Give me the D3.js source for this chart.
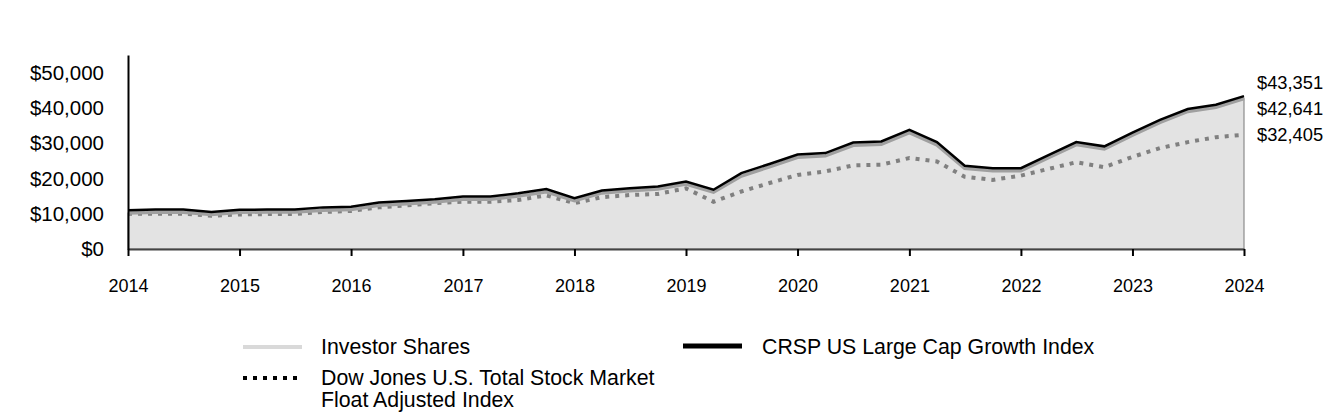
<!DOCTYPE html>
<html>
<head>
<meta charset="utf-8">
<script src="https://cdn.jsdelivr.net/npm/d3@7/dist/d3.min.js"></script>
<style>
  html, body { margin: 0; padding: 0; background: #fff; }
  svg { display: block; font-family: Arial, "Liberation Sans", sans-serif; }
</style>
</head>
<body>
<svg id="chart" width="1344" height="420"></svg>
<script>
// Quarterly dates, 2014 Q0 .. 2024 Q0
const quarters = [
  "2014-01","2014-04","2014-07","2014-10","2015-01","2015-04","2015-07","2015-10",
  "2016-01","2016-04","2016-07","2016-10","2017-01","2017-04","2017-07","2017-10",
  "2018-01","2018-04","2018-07","2018-10","2019-01","2019-04","2019-07","2019-10",
  "2020-01","2020-04","2020-07","2020-10","2021-01","2021-04","2021-07","2021-10",
  "2022-01","2022-04","2022-07","2022-10","2023-01","2023-04","2023-07","2023-10",
  "2024-01"
];
// Values in US$ (hypothetical growth of $10,000)
const investorShares = [
  10200,10400,10400,9800,10400,10500,10500,11000,
  11200,12400,12800,13300,14100,14100,15000,16200,
  13700,15900,16500,17000,18400,16100,20700,23300,
  26000,26400,29400,29700,33000,29500,22900,22200,
  22200,25900,29600,28400,32300,35900,39000,40200,
  42641
];
const crspGrowth = [
  11000,11200,11200,10500,11100,11200,11200,11800,
  12000,13200,13600,14100,14900,14900,15800,17000,
  14400,16600,17200,17700,19100,16800,21500,24100,
  26800,27200,30200,30500,33800,30300,23600,22900,
  22900,26600,30300,29100,33000,36600,39700,40900,
  43351
];
const dowJonesTotal = [
  10000,10000,10000,9400,9800,9900,9900,10500,
  10800,11800,12400,13000,13400,13400,13900,15200,
  13000,14700,15300,15600,17200,13400,16300,18700,
  21000,22000,23700,23900,25800,24800,20500,19600,
  20800,22700,24600,23200,26100,28600,30300,31700,
  32405
];
const yTicks = [0, 10000, 20000, 30000, 40000, 50000];
const xTickYears = [2014,2015,2016,2017,2018,2019,2020,2021,2022,2023,2024];
const endLabels = ["$43,351", "$42,641", "$32,405"];
const legendItems = [
  {name: "Investor Shares", lines: ["Investor Shares"]},
  {name: "CRSP US Large Cap Growth Index", lines: ["CRSP US Large Cap Growth Index"]},
  {name: "Dow Jones", lines: ["Dow Jones U.S. Total Stock Market", "Float Adjusted Index"]}
];

const parse = d3.timeParse("%Y-%m");
const dates = quarters.map(parse);

const svg = d3.select("#chart");
const plotLeft = 128, plotRight = 1244, plotTop = 55, plotBottom = 249;

const x = d3.scaleTime()
  .domain([new Date(2014,0,1), new Date(2024,0,1)])
  .range([plotLeft, plotRight]);
const y = d3.scaleLinear().domain([0, 55000]).range([plotBottom, plotTop]);

const pts = arr => arr.map((v,i) => ({d: dates[i], v}));

// Area under Investor Shares
const area = d3.area().x(p => x(p.d)).y0(y(0)).y1(p => y(p.v));
svg.append("path").datum(pts(investorShares))
  .attr("d", area).attr("fill", "#e3e3e3")
  .attr("stroke", "#8c8c8c").attr("stroke-width", 1.2);

const line = d3.line().x(p => x(p.d)).y(p => y(p.v));

// Dow Jones dotted line
svg.append("path").datum(pts(dowJonesTotal))
  .attr("d", line).attr("fill", "none")
  .attr("stroke", "#808080").attr("stroke-width", 4)
  .attr("stroke-dasharray", "4,6");

// Investor Shares line
svg.append("path").datum(pts(investorShares))
  .attr("d", line).attr("fill", "none")
  .attr("stroke", "#a0a0a0").attr("stroke-width", 3.5);

// CRSP line
svg.append("path").datum(pts(crspGrowth))
  .attr("d", line).attr("fill", "none")
  .attr("stroke", "#000").attr("stroke-width", 2.5);

// X axis
const xAxis = d3.axisBottom(x)
  .tickValues(xTickYears.map(yr => new Date(yr,0,1)))
  .tickFormat(d3.timeFormat("%Y"))
  .tickSize(7).tickSizeOuter(0).tickPadding(23);
const gx = svg.append("g").attr("transform", `translate(0,${plotBottom})`).call(xAxis);
gx.select(".domain").attr("stroke", "#444").attr("stroke-width", 2);
gx.selectAll(".tick line").attr("stroke", "#000").attr("stroke-width", 2);
gx.selectAll(".tick text").attr("font-size", 18).attr("fill", "#000")
  .attr("font-family", "Arial, 'Liberation Sans', sans-serif");

// Y axis
const yAxis = d3.axisLeft(y).tickValues(yTicks)
  .tickFormat(d => "$" + d3.format(",")(d))
  .tickSize(0).tickPadding(24);
const gy = svg.append("g").attr("transform", `translate(${plotLeft},0)`).call(yAxis);
gy.select(".domain").attr("stroke", "#000").attr("stroke-width", 2);
gy.selectAll(".tick text").attr("font-size", 20.5).attr("fill", "#000")
  .attr("font-family", "Arial, 'Liberation Sans', sans-serif");

// End labels
const endY = [83, 109, 135];
svg.selectAll("text.endlabel").data(endLabels).enter().append("text")
  .attr("class", "endlabel")
  .attr("x", plotRight + 13).attr("y", (d,i) => endY[i])
  .attr("dy", "0.35em").attr("font-size", 18.3).attr("fill", "#000")
  .text(d => d);

// Legend
const legendFont = 21.3;
const lg = svg.append("g");
lg.append("line").attr("x1", 243).attr("x2", 302).attr("y1", 347).attr("y2", 347)
  .attr("stroke", "#d9d9d9").attr("stroke-width", 4);
lg.append("text").attr("x", 321).attr("y", 354).attr("font-size", legendFont).text(legendItems[0].lines[0]);

lg.append("line").attr("x1", 683).attr("x2", 742).attr("y1", 346).attr("y2", 346)
  .attr("stroke", "#000").attr("stroke-width", 5);
lg.append("text").attr("x", 762).attr("y", 354).attr("font-size", legendFont).text(legendItems[1].lines[0]);

lg.append("line").attr("x1", 243).attr("x2", 300).attr("y1", 378).attr("y2", 378)
  .attr("stroke", "#000").attr("stroke-width", 4).attr("stroke-dasharray", "4,6");
lg.append("text").attr("x", 321).attr("y", 385).attr("font-size", legendFont).text(legendItems[2].lines[0]);
lg.append("text").attr("x", 321).attr("y", 407).attr("font-size", legendFont).text(legendItems[2].lines[1]);
</script>
</body>
</html>
